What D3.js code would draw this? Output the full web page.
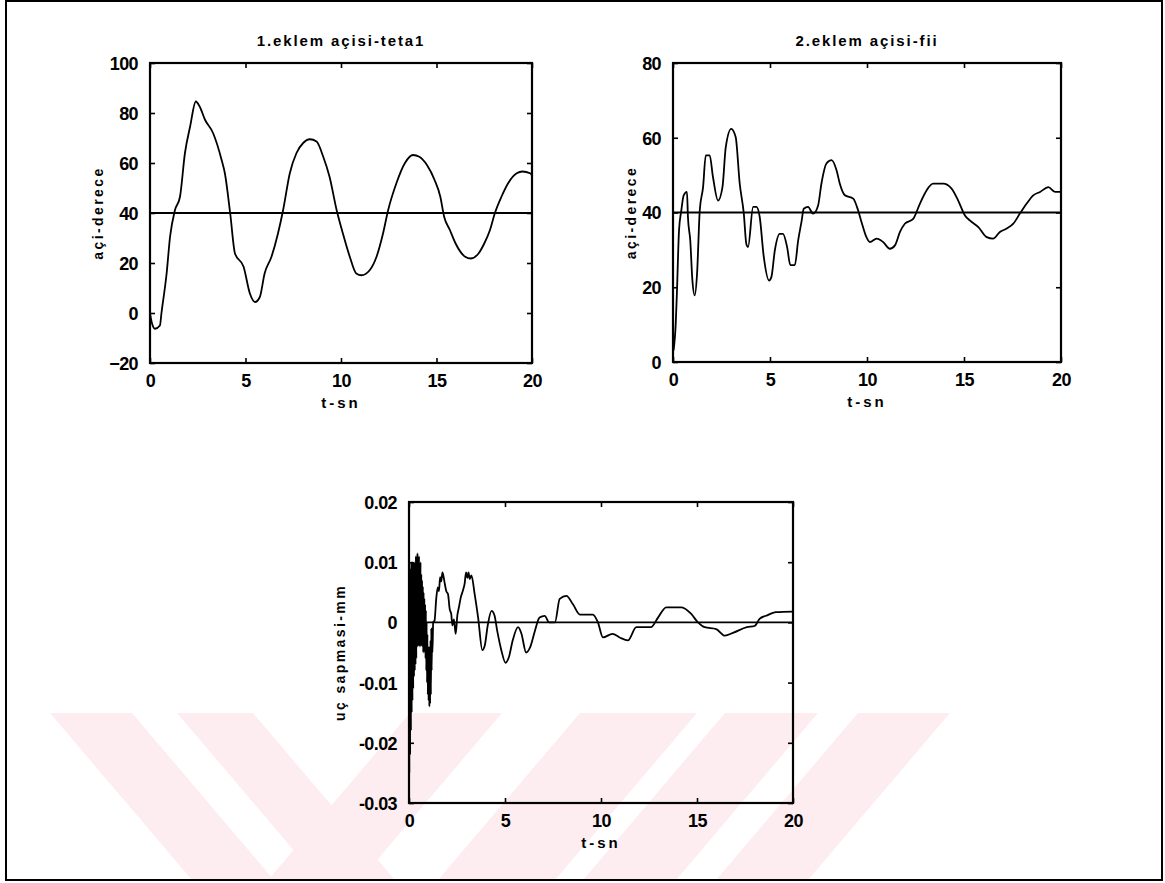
<!DOCTYPE html>
<html>
<head>
<meta charset="utf-8">
<script src="https://cdn.jsdelivr.net/npm/d3@7"></script>
<style>
  body { margin: 0; background: #fff; }
  svg text { font-family: "Liberation Sans", Arial, Helvetica, sans-serif; font-weight: bold; fill: #000; }
</style>
</head>
<body>
<svg id="fig" width="1165" height="883"></svg>
<script>
// ---- joint 1 angle (theta1), degrees vs time in seconds ----
const theta1Time = [0, 0.1, 0.26, 0.52, 0.6, 0.87, 1.05, 1.3, 1.57, 1.83, 2.1, 2.4, 2.6, 2.88, 3.3, 3.75, 3.92, 4.2, 4.45, 4.9, 5.23, 5.5, 5.75, 6.0, 6.36, 6.7, 6.97, 7.32, 7.67, 8.02, 8.37, 8.72, 9.07, 9.4, 9.77, 10.1, 10.46, 10.8, 11.07, 11.5, 11.86, 12.2, 12.47, 12.9, 13.34, 13.77, 14.1, 14.5, 14.9, 15.2, 15.4, 15.7, 16.0, 16.5, 16.8, 17.2, 17.5, 17.8, 18.05, 18.4, 18.75, 19.2, 19.5, 19.9, 20];
const theta1Deg  = [0, -4, -6.3, -5, 0, 15.8, 30.5, 41, 46.5, 64, 74.6, 84.6, 82.6, 77.3, 72, 61.2, 55.9, 39.8, 23.8, 18.5, 7.8, 4.4, 6.4, 15.8, 22.5, 31.8, 41.2, 55.9, 64, 68, 69.5, 68.6, 62.5, 54.5, 41.2, 31.8, 22.5, 15.8, 15.1, 17.1, 22.5, 31.8, 41.2, 51.9, 59.9, 63.2, 62.5, 59.2, 53.2, 46.5, 38.5, 33.2, 27.8, 22.5, 21.8, 23.8, 27.8, 33.2, 39.8, 46.5, 51.9, 55.9, 56.6, 55.9, 55];

// ---- joint 2 angle (fii), degrees vs time in seconds ----
const fiiTime = [0.03, 0.14, 0.2, 0.31, 0.43, 0.55, 0.72, 0.77, 0.89, 1.0, 1.12, 1.24, 1.38, 1.55, 1.69, 1.89, 2.06, 2.32, 2.55, 2.72, 3.0, 3.23, 3.44, 3.65, 3.78, 3.87, 4.13, 4.3, 4.47, 4.68, 4.95, 5.07, 5.25, 5.5, 5.67, 5.88, 6.05, 6.28, 6.45, 6.62, 6.74, 6.96, 7.22, 7.48, 7.65, 7.91, 8.17, 8.43, 8.6, 8.86, 9.29, 9.54, 9.72, 9.97, 10.15, 10.5, 10.83, 11.18, 11.44, 11.7, 11.95, 12.38, 12.73, 13.07, 13.41, 13.93, 14.36, 14.7, 15.05, 15.3, 15.74, 16.17, 16.5, 16.85, 17.2, 17.54, 17.88, 18.23, 18.57, 18.92, 19.35, 19.7, 20];
const fiiDeg  = [3.1, 10.2, 18.3, 35.2, 40.6, 44.6, 45.5, 38.8, 32.5, 21.8, 17.8, 23.6, 40.6, 46.8, 55.3, 55.3, 49.5, 43.2, 46.8, 57.5, 62.4, 60.2, 47.7, 39.7, 31.6, 30.8, 41.5, 41.5, 38.8, 28.1, 21.8, 22.7, 29.9, 34.3, 34.3, 30.8, 25.9, 25.9, 32.5, 37.4, 41.0, 41.5, 39.7, 41.9, 47.7, 53.1, 54.0, 51.3, 47.7, 44.6, 43.7, 40.6, 37.4, 33.4, 32.1, 33.0, 32.1, 30.3, 31.2, 34.8, 37.0, 38.3, 42.4, 45.9, 47.7, 47.7, 46.4, 43.2, 39.2, 37.9, 36.1, 33.4, 33.0, 34.8, 35.7, 37.0, 39.7, 42.4, 44.6, 45.5, 46.8, 45.5, 45.5];

// ---- end-effector (tip) deviation, mm vs time in seconds ----
const tipTime = [0, 0.02, 0.04, 0.06, 0.08, 0.10, 0.12, 0.14, 0.16, 0.18, 0.20, 0.22, 0.24, 0.26, 0.28, 0.30, 0.32, 0.34, 0.36, 0.38, 0.40, 0.42, 0.44, 0.46, 0.48, 0.50, 0.52, 0.54, 0.56, 0.58, 0.60, 0.62, 0.64, 0.66, 0.68, 0.70, 0.72, 0.74, 0.76, 0.78, 0.80, 0.82, 0.84, 0.86, 0.88, 0.90, 0.92, 0.94, 0.96, 0.98, 1.00, 1.02, 1.04, 1.06, 1.08, 1.10, 1.12, 1.14, 1.16, 1.18, 1.20, 1.22, 1.26, 1.33, 1.42, 1.5, 1.56, 1.62, 1.68, 1.74, 1.8, 1.86, 1.94, 2.03, 2.12, 2.2, 2.26, 2.34, 2.43, 2.52, 2.6, 2.7, 2.81, 2.9, 2.97, 3.04, 3.1, 3.16, 3.25, 3.42, 3.6, 3.82, 3.95, 4.1, 4.3, 4.45, 4.6, 4.8, 5.03, 5.2, 5.4, 5.68, 5.85, 6.1, 6.3, 6.55, 6.8, 7.07, 7.3, 7.6, 7.85, 8.2, 8.54, 8.9, 9.58, 9.84, 10.1, 10.6, 10.97, 11.4, 11.84, 12.6, 12.97, 13.4, 14.2, 14.7, 15.05, 15.4, 16.0, 16.45, 16.9, 17.6, 18.0, 18.26, 18.6, 19.1, 20];
const tipMm   = [0, -0.025, 0.005, -0.022, 0.009, -0.018, 0.010, -0.015, 0.006, -0.013, 0.010, -0.011, 0.004, -0.009, 0.010, -0.008, 0.008, -0.007, 0.011, -0.006, 0.011, -0.004, 0.0115, -0.004, 0.010, -0.003, 0.011, -0.004, 0.009, -0.002, 0.010, -0.004, 0.008, -0.003, 0.007, -0.004, 0.006, -0.005, 0.005, -0.004, 0.004, -0.005, 0.003, -0.006, 0.002, -0.008, 0.000, -0.010, -0.002, -0.012, -0.004, -0.013, -0.005, -0.014, -0.004, -0.0135, -0.003, -0.012, -0.001, -0.008, -0.001, -0.005, 0.000, 0.0003, 0.004, 0.0058, 0.0052, 0.0075, 0.0068, 0.0083, 0.0076, 0.0065, 0.0052, 0.0047, 0.0022, 0.0014, -0.0005, 0.0005, -0.0019, 0.0012, 0.0025, 0.0042, 0.0053, 0.0065, 0.0083, 0.0074, 0.0083, 0.0072, 0.0078, 0.0047, 0.0008, -0.0046, -0.0038, -0.0005, 0.0019, 0.0012, -0.0015, -0.0045, -0.0067, -0.0058, -0.003, -0.0008, -0.0018, -0.005, -0.0042, -0.0015, 0.0008, 0.0011, 0, 0, 0.0039, 0.0044, 0.003, 0.0013, 0.0013, 0, -0.0025, -0.0019, -0.0025, -0.003, -0.0008, -0.0008, 0.0008, 0.0025, 0.0025, 0.0014, 0, -0.0008, -0.0011, -0.0022, -0.0017, -0.0008, -0.0006, 0.0006, 0.0011, 0.0017, 0.0018];

// ---- axis ticks and reference levels ----
const timeTicks   = [0, 5, 10, 15, 20];
const theta1Ticks = [-20, 0, 20, 40, 60, 80, 100];
const fiiTicks    = [0, 20, 40, 60, 80];
const tipTicks    = [-0.03, -0.02, -0.01, 0, 0.01, 0.02];
const theta1Ref = 40;
const fiiRef    = 40;
const tipRef    = 0;

// ---- texts ----
const titles  = ["1.eklem açisi-teta1", "2.eklem açisi-fii", ""];
const yLabels = ["açi-derece", "açi-derece", "uç sapmasi-mm"];
const xLabel  = "t-sn";

const svg = d3.select("#fig");

// watermark stripes in the lower part of the page
const wm = svg.append("g").attr("fill", "#fdedf0");
const wmTop = 713, wmBot = 879, slant = 0.85 * (wmBot - wmTop);
[[50, 132, 1], [177, 253, 1], [410, 502, -1], [580, 697, -1], [725, 818, -1], [858, 950, -1]].forEach(([a, b, dir]) => {
  const s = dir * slant;
  wm.append("path").attr("d", `M${a},${wmTop}L${b},${wmTop}L${b + s},${wmBot}L${a + s},${wmBot}Z`);
});

// page frame
svg.append("rect").attr("x", 6).attr("y", 1).attr("width", 1156).attr("height", 879)
  .attr("fill", "none").attr("stroke", "#000").attr("stroke-width", 2);

function panel(opt) {
  const { left, top, width, height, yDomain, yTicks, yFmt, times, values, ref, title, yLabel, yLabelX } = opt;
  const g = svg.append("g");
  const x = d3.scaleLinear().domain([0, 20]).range([left, left + width]);
  const y = d3.scaleLinear().domain(yDomain).range([top + height, top]);

  const tickLen = 5;
  const styleAxis = sel => {
    sel.select(".domain").remove();
    sel.selectAll(".tick line").attr("stroke", "#000").attr("stroke-width", 1.6);
    sel.selectAll(".tick text").style("font-size", "18px").style("letter-spacing", "-0.6px").attr("fill", "#000");
  };

  g.append("g").attr("transform", `translate(${left},0)`)
    .call(d3.axisLeft(y).tickValues(yTicks).tickSizeInner(-tickLen).tickSizeOuter(0).tickPadding(12).tickFormat(yFmt))
    .call(styleAxis)
    .call(s => s.selectAll(".tick text").attr("dy", "0.36em"));
  g.append("g").attr("transform", `translate(${left + width},0)`)
    .call(d3.axisRight(y).tickValues(yTicks).tickSizeInner(-tickLen).tickSizeOuter(0).tickFormat(""))
    .call(styleAxis);
  g.append("g").attr("transform", `translate(0,${top + height})`)
    .call(d3.axisBottom(x).tickValues(timeTicks).tickSizeInner(-tickLen).tickSizeOuter(0).tickPadding(11).tickFormat(d3.format("d")))
    .call(styleAxis);
  g.append("g").attr("transform", `translate(0,${top})`)
    .call(d3.axisTop(x).tickValues(timeTicks).tickSizeInner(-tickLen).tickSizeOuter(0).tickFormat(""))
    .call(styleAxis);

  // plot box
  g.append("rect").attr("x", left).attr("y", top).attr("width", width).attr("height", height)
    .attr("fill", "none").attr("stroke", "#000").attr("stroke-width", 2.2);

  // reference level
  g.append("line").attr("x1", x(0)).attr("x2", x(20)).attr("y1", y(ref)).attr("y2", y(ref))
    .attr("stroke", "#000").attr("stroke-width", 1.8);

  // response curve
  const line = d3.line().x(d => x(d[0])).y(d => y(d[1])).curve(d3.curveMonotoneX);
  g.append("path").datum(times.map((t, i) => [t, values[i]]))
    .attr("d", line).attr("fill", "none").attr("stroke", "#000")
    .attr("stroke-width", 1.8).attr("stroke-linejoin", "round");

  if (title) {
    g.append("text").attr("x", left + width / 2).attr("y", top - 17).attr("text-anchor", "middle")
      .style("font-size", "15px").style("letter-spacing", "1.9px").text(title);
  }
  g.append("text").attr("x", left + width / 2).attr("y", top + height + 45).attr("text-anchor", "middle")
    .style("font-size", "15px").style("letter-spacing", "3px").text(xLabel);
  g.append("text").attr("transform", `translate(${yLabelX},${top + height / 2}) rotate(-90)`)
    .attr("text-anchor", "middle").attr("dy", "0.35em")
    .style("font-size", "14px").style("letter-spacing", "2.4px").text(yLabel);
}

panel({ left: 150, top: 63, width: 382, height: 300, yDomain: [-20, 100], yTicks: theta1Ticks, yFmt: d3.format("d"),
  times: theta1Time, values: theta1Deg, ref: theta1Ref, title: titles[0], yLabel: yLabels[0], yLabelX: 98 });
panel({ left: 673, top: 63, width: 388, height: 299, yDomain: [0, 80], yTicks: fiiTicks, yFmt: d3.format("d"),
  times: fiiTime, values: fiiDeg, ref: fiiRef, title: titles[1], yLabel: yLabels[1], yLabelX: 631 });
panel({ left: 409, top: 502, width: 384, height: 301, yDomain: [-0.03, 0.02], yTicks: tipTicks,
  yFmt: d => d === 0 ? "0" : d.toFixed(2),
  times: tipTime, values: tipMm, ref: tipRef, title: titles[2], yLabel: yLabels[2], yLabelX: 340 });
</script>
</body>
</html>
